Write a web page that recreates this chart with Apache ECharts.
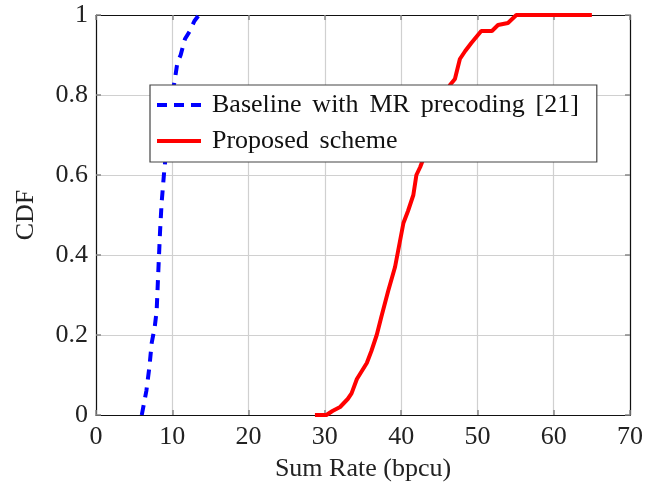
<!DOCTYPE html>
<html>
<head>
<meta charset="utf-8">
<script src="https://cdn.jsdelivr.net/npm/echarts@6/dist/echarts.min.js"></script>
<style>html,body{margin:0;padding:0;background:#fff}#c{width:662px;height:489px}</style>
</head>
<body>
<div id="c"></div>
<script>
const xTicks = [0, 10, 20, 30, 40, 50, 60, 70];
const yTicks = [0, 0.2, 0.4, 0.6, 0.8, 1];
const seriesNames = ["Baseline with MR precoding [21]", "Proposed scheme"];
const baselineX = [6.0, 6.6, 7.0, 7.3, 7.7, 7.95, 8.17, 8.4, 8.6, 8.9, 9.17, 9.4, 9.7, 10.0, 10.35, 10.66, 11.1, 11.66, 12.3, 12.9, 13.5];
const baselineY = [0.0, 0.06, 0.12, 0.18, 0.22, 0.26, 0.36, 0.46, 0.53, 0.60, 0.655, 0.70, 0.75, 0.80, 0.84, 0.88, 0.90, 0.94, 0.96, 0.985, 1.0];
const proposedX = [28.7, 30.2, 31.0, 32.0, 33.0, 33.5, 34.2, 35.5, 36.1, 36.8, 37.4, 38.3, 39.2, 39.8, 40.3, 40.9, 41.6, 42.0, 42.5, 42.9, 43.6, 44.4, 45.3, 46.4, 47.05, 47.7, 48.4, 49.2, 50.5, 51.9, 52.7, 54.0, 55.1, 65.0];
const proposedY = [0.0, 0.0, 0.01, 0.02, 0.04, 0.054, 0.09, 0.13, 0.16, 0.20, 0.245, 0.31, 0.37, 0.43, 0.48, 0.51, 0.55, 0.60, 0.62, 0.64, 0.68, 0.72, 0.77, 0.825, 0.84, 0.89, 0.91, 0.93, 0.96, 0.96, 0.975, 0.98, 1.0, 1.0];

const zip = (xs, ys) => xs.map((x, i) => [x, ys[i]]);
const font = "'Liberation Serif', 'DejaVu Serif', serif";
const fmtY = v => String(Math.round(v * 10) / 10);

const chart = echarts.init(document.getElementById('c'));
const axisCommon = {
  axisLine: { show: true, onZero: false, lineStyle: { color: '#111', width: 1.2 } },
  axisTick: { show: true, inside: true, length: 5, lineStyle: { color: '#888', width: 1.5 } },
};
chart.setOption({
  animation: false,
  backgroundColor: '#fff',
  grid: { left: 96, right: 32, top: 15, bottom: 74, containLabel: false },
  xAxis: [
    Object.assign({
      type: 'value', min: xTicks[0], max: xTicks[xTicks.length - 1], interval: 10,
      name: 'Sum Rate (bpcu)', nameLocation: 'middle', nameGap: 41,
      nameTextStyle: { fontFamily: font, fontSize: 26, color: '#222' },
      axisLabel: { fontFamily: font, fontSize: 26, color: '#222', margin: 9 },
      splitLine: { show: true, lineStyle: { color: '#d0d0d0', width: 1.2 } }
    }, axisCommon),
    Object.assign({
      type: 'value', position: 'top', min: 0, max: 70, interval: 10,
      axisLabel: { show: false }, splitLine: { show: false }
    }, axisCommon)
  ],
  yAxis: [
    Object.assign({
      type: 'value', min: yTicks[0], max: yTicks[yTicks.length - 1], interval: 0.2,
      name: 'CDF', nameLocation: 'middle', nameGap: 57,
      nameTextStyle: { fontFamily: font, fontSize: 26, color: '#222' },
      axisLabel: { fontFamily: font, fontSize: 26, color: '#222', margin: 8, formatter: fmtY },
      splitLine: { show: true, lineStyle: { color: '#d0d0d0', width: 1.2 } }
    }, axisCommon),
    Object.assign({
      type: 'value', position: 'right', min: 0, max: 1, interval: 0.2,
      axisLabel: { show: false }, splitLine: { show: false }
    }, axisCommon)
  ],
  legend: {
    orient: 'vertical', left: 150, top: 85,
    backgroundColor: '#fff', borderColor: '#444', borderWidth: 1.2,
    padding: [7, 18, 8, 7], itemGap: 10, itemWidth: 44, itemHeight: 4,
    symbolKeepAspect: false,
    formatter: n => n.split(' ').join(' \u2006'),
    textStyle: { fontFamily: font, fontSize: 26, color: '#111', padding: [0, 0, 0, 6] },
    data: [
      { name: seriesNames[0], icon: 'path://M0,0h10v4h-10zM17,0h10v4h-10zM34,0h10v4h-10z' },
      { name: seriesNames[1], icon: 'path://M0,0h44v4h-44z' }
    ]
  },
  series: [
    {
      name: seriesNames[0], type: 'line', data: zip(baselineX, baselineY),
      showSymbol: false, symbol: 'none', smooth: false,
      lineStyle: { color: '#0000ff', width: 4, type: [10, 8] },
      itemStyle: { color: '#0000ff' }
    },
    {
      name: seriesNames[1], type: 'line', data: zip(proposedX, proposedY),
      showSymbol: false, symbol: 'none', smooth: false,
      lineStyle: { color: '#ff0000', width: 4 },
      itemStyle: { color: '#ff0000' }
    }
  ]
});
</script>
</body>
</html>
